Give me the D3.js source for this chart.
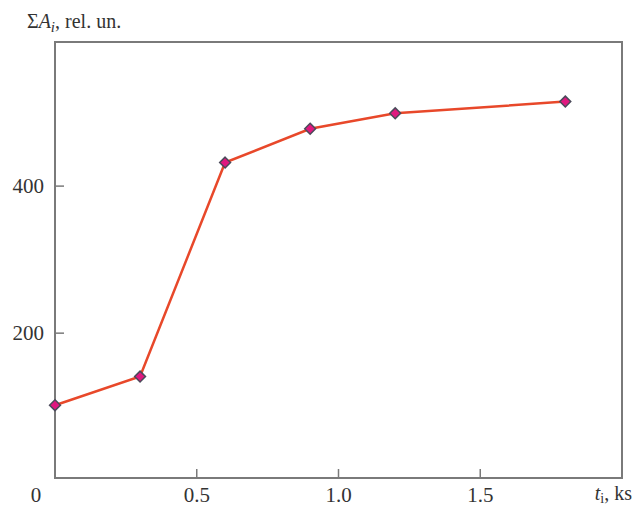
<!DOCTYPE html>
<html>
<head>
<meta charset="utf-8">
<script src="https://cdn.jsdelivr.net/npm/d3@7"></script>
<style>
  body { margin: 0; background: #fff; }
  text { font-family: "Liberation Serif", "Times New Roman", serif; fill: #333; }
</style>
</head>
<body>
<div id="chart"></div>
<script>
// time, ks
const times = [0, 0.3, 0.6, 0.9, 1.2, 1.8];
// cumulative amplitude, rel. un.
const sumA = [102, 141, 432, 478, 499, 515];
const xTicks = [0.5, 1.0, 1.5];
const yTicks = [200, 400];

const width = 634, height = 508;
const plotLeft = 55, plotRight = 622, plotTop = 42, plotBottom = 478;

const svg = d3.select("#chart").append("svg")
  .attr("width", width)
  .attr("height", height);

const x = d3.scaleLinear().domain([0, 2]).range([plotLeft, plotRight]);
const y = d3.scaleLinear().domain([3, 596]).range([plotBottom, plotTop]);

// frame
svg.append("rect")
  .attr("x", plotLeft).attr("y", plotTop)
  .attr("width", plotRight - plotLeft).attr("height", plotBottom - plotTop)
  .attr("fill", "none")
  .attr("stroke", "#7a7a7a")
  .attr("stroke-width", 2);

// inward ticks
svg.append("g").selectAll("line").data(xTicks).join("line")
  .attr("x1", d => x(d)).attr("x2", d => x(d))
  .attr("y1", plotBottom).attr("y2", plotBottom - 9)
  .attr("stroke", "#7a7a7a").attr("stroke-width", 1.5);

svg.append("g").selectAll("line").data(yTicks).join("line")
  .attr("x1", plotLeft).attr("x2", plotLeft + 9)
  .attr("y1", d => y(d)).attr("y2", d => y(d))
  .attr("stroke", "#7a7a7a").attr("stroke-width", 1.5);

// tick labels
svg.append("g").selectAll("text").data(xTicks).join("text")
  .attr("x", d => x(d)).attr("y", 502)
  .attr("text-anchor", "middle")
  .attr("font-size", 21)
  .text(d => d.toFixed(1));

svg.append("g").selectAll("text").data(yTicks).join("text")
  .attr("x", 44).attr("y", d => y(d) + 7)
  .attr("text-anchor", "end")
  .attr("font-size", 21)
  .text(d => d);

svg.append("text")
  .attr("x", 36).attr("y", 502)
  .attr("text-anchor", "middle")
  .attr("font-size", 21)
  .text("0");

// axis titles
const yt = svg.append("text").attr("x", 27).attr("y", 28).attr("font-size", 20);
yt.append("tspan").text("Σ");
yt.append("tspan").attr("font-style", "italic").text("A");
yt.append("tspan").attr("font-style", "italic").attr("font-size", 15).attr("dy", 4).text("i");
yt.append("tspan").attr("dy", -4).text(", rel. un.");

const xt = svg.append("text").attr("x", 632).attr("y", 500).attr("text-anchor", "end").attr("font-size", 20);
xt.append("tspan").attr("font-style", "italic").text("t");
xt.append("tspan").attr("font-size", 14).attr("dy", 3).text("i");
xt.append("tspan").attr("dy", -3).text(", ks");

// curve
const pts = times.map((t, i) => [t, sumA[i]]);
const line = d3.line().x(d => x(d[0])).y(d => y(d[1]));

svg.append("path")
  .datum(pts)
  .attr("d", line)
  .attr("fill", "none")
  .attr("stroke", "#e8482a")
  .attr("stroke-width", 2.5);

svg.append("g").selectAll("path").data(pts).join("path")
  .attr("d", d3.symbol().type(d3.symbolDiamond2).size(75))
  .attr("transform", d => `translate(${x(d[0])},${y(d[1])})`)
  .attr("fill", "#e0187f")
  .attr("stroke", "#4a4a5a")
  .attr("stroke-width", 1.5);
</script>
</body>
</html>
